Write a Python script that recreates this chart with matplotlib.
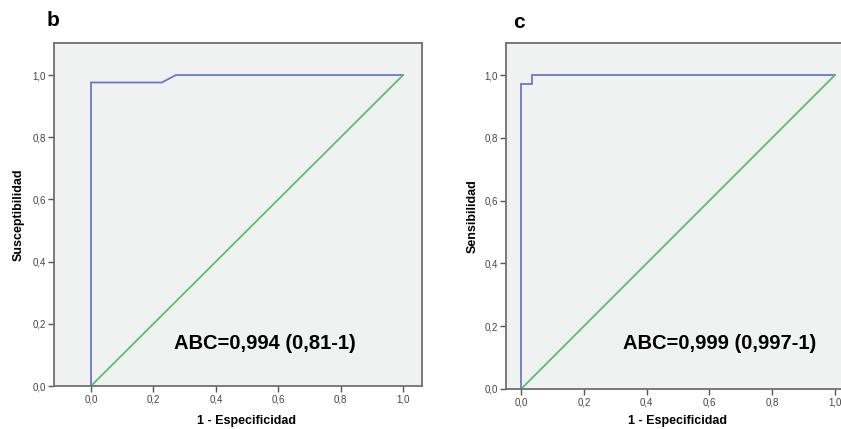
import matplotlib
matplotlib.use("Agg")
import matplotlib.pyplot as plt

plt.rcParams['font.family'] = ['Liberation Sans', 'DejaVu Sans']

# ROC curve data (1 - specificity, sensitivity)
fpr_b = [0.0, 0.0, 0.227, 0.272, 1.0]
tpr_b = [0.0, 0.976, 0.976, 1.0, 1.0]
fpr_c = [0.0, 0.0, 0.035, 0.035, 1.0]
tpr_c = [0.0, 0.973, 0.973, 1.0, 1.0]
ref = [0.0, 1.0]

ticks = [0.0, 0.2, 0.4, 0.6, 0.8, 1.0]
tick_labels = ["0,0", "0,2", "0,4", "0,6", "0,8", "1,0"]

blue = "#6a78c8"
green = "#5cbf6c"

fig = plt.figure(figsize=(8.41, 4.29), dpi=100)
ax1 = fig.add_axes([54/841, 43/429, 367.5/841, 343/429])
ax2 = fig.add_axes([506/841, 40/429, 344/841, 346/429])

panels = [
    (ax1, fpr_b, tpr_b, "Susceptibilidad", "ABC=0,994 (0,81-1)",
     (-0.1186, 1.059), 1.103, (0.558, 0.138), (-0.095, 0.5), (0.525, -0.102)),
    (ax2, fpr_c, tpr_c, "Sensibilidad", "ABC=0,999 (0,997-1)",
     (-0.048, 1.048), 1.102, (0.632, 0.146), (-0.096, 0.5), (0.5, -0.0925)),
]

for ax, fx, ty, ylab, txt, xl, ytop, tpos, ylpos, xlpos in panels:
    ax.set_facecolor("#f0f1f1")
    ax.plot(fx, ty, color=blue, lw=1.3, solid_joinstyle='miter')
    ax.plot(ref, ref, color=green, lw=1.3)
    ax.set_xlim(*xl)
    ax.set_ylim(0, ytop)
    ax.set_xticks(ticks)
    ax.set_xticklabels(tick_labels)
    ax.set_yticks(ticks)
    ax.set_yticklabels(tick_labels)
    ax.tick_params(labelsize=7, colors="#555555", labelcolor="#444444",
                   length=4, width=1, pad=2)
    for s in ax.spines.values():
        s.set_color("#707070")
        s.set_linewidth(1.3)
    ax.set_ylabel(ylab, fontsize=9, fontweight='bold', va='center')
    ax.yaxis.set_label_coords(*ylpos)
    ax.set_xlabel("1 - Especificidad", fontsize=9, fontweight='bold', va='center')
    ax.xaxis.set_label_coords(*xlpos)
    ax.text(tpos[0], tpos[1], txt, fontsize=14.5, fontweight='bold',
            ha='center', va='center')

fig.text(47/841, 1 - 20/429, "b", fontsize=15, fontweight='bold', va='center')
fig.text(513/841, 1 - 22/429, "c", fontsize=15, fontweight='bold', va='center')

fig.savefig("out.png", dpi=100)
